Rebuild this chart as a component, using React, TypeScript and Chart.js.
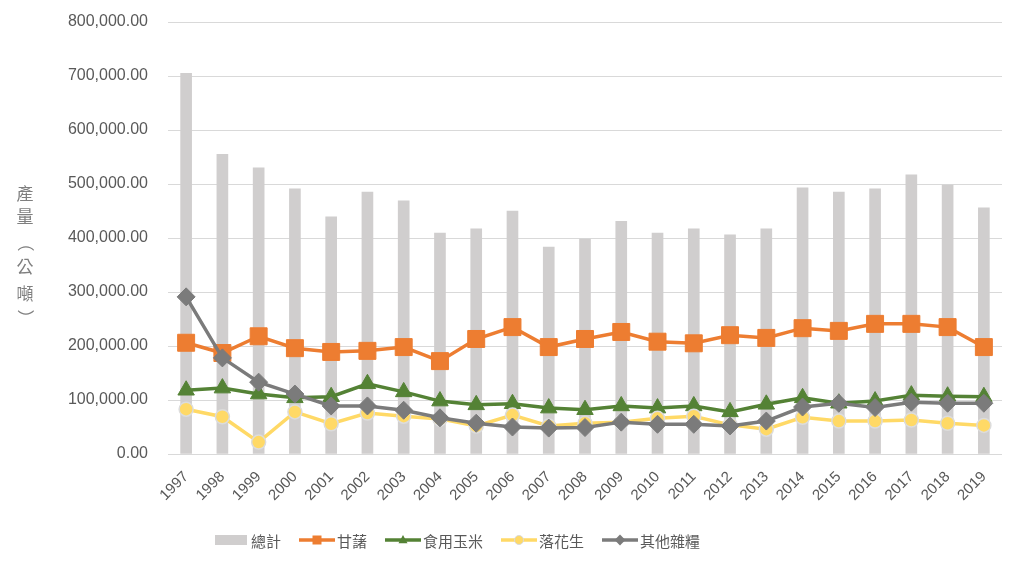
import React, { useEffect, useRef } from 'react';
import { Chart, registerables } from 'chart.js';

Chart.register(...registerables);

const years = ['1997', '1998', '1999', '2000', '2001', '2002', '2003', '2004', '2005', '2006', '2007', '2008', '2009', '2010', '2011', '2012', '2013', '2014', '2015', '2016', '2017', '2018', '2019'];
const total = [705000, 555000, 530000, 491000, 439000, 485000, 469000, 409000, 417000, 450000, 383000, 398000, 431000, 409000, 417000, 406000, 417000, 493000, 485000, 491000, 517000, 498000, 456000];
const sweetPotato = [206000, 187000, 218000, 196000, 189000, 191000, 198000, 172000, 213000, 235000, 198000, 213000, 226000, 208000, 205000, 220000, 215000, 233000, 228000, 241000, 241000, 235000, 198000];
const corn = [118000, 122000, 111000, 104000, 106000, 130000, 115000, 98000, 91000, 93000, 85000, 82000, 89000, 85000, 89000, 78000, 92000, 104000, 94000, 98000, 109000, 107000, 106000];
const peanut = [83000, 69000, 22000, 78000, 56000, 76000, 70000, 65000, 52000, 72000, 52000, 57000, 59000, 66000, 70000, 54000, 46000, 68000, 61000, 61000, 63000, 57000, 53000];
const otherGrains = [291000, 178000, 133000, 111000, 89000, 89000, 81000, 67000, 57000, 50000, 48000, 49000, 59000, 55000, 55000, 52000, 61000, 87000, 94000, 86000, 96000, 94000, 94000];
const seriesNames = ['總計', '甘藷', '食用玉米', '落花生', '其他雜糧'];
const yAxisTitle = '產量（公噸）';
const yMin = 0;
const yMax = 800000;
const yStep = 100000;

const C_BAR = '#d0cece';
const C_ORANGE = '#ed7d31';
const C_GREEN = '#548235';
const C_YELLOW = '#ffd966';
const C_GRAY = '#7b7b7b';
const TEXT = '#595959';
const CJK = '"Noto Sans CJK TC", "Noto Sans CJK SC", sans-serif';
const NUM = '"Liberation Sans", Arial, sans-serif';

function drawMarker(ctx: CanvasRenderingContext2D, kind: string, x: number, y: number, s: number, fill: string, stroke?: string) {
  ctx.save();
  ctx.beginPath();
  if (kind === 'rect') {
    ctx.rect(x - s, y - s, 2 * s, 2 * s);
  } else if (kind === 'triangle') {
    ctx.moveTo(x, y - s * 1.1);
    ctx.lineTo(x + s * 1.0, y + s * 0.7);
    ctx.lineTo(x - s * 1.0, y + s * 0.7);
    ctx.closePath();
  } else if (kind === 'circle') {
    ctx.arc(x, y, s, 0, Math.PI * 2);
  } else if (kind === 'diamond') {
    ctx.moveTo(x, y - s * 1.2);
    ctx.lineTo(x + s * 1.2, y);
    ctx.lineTo(x, y + s * 1.2);
    ctx.lineTo(x - s * 1.2, y);
    ctx.closePath();
  }
  ctx.fillStyle = fill;
  ctx.fill();
  if (stroke) {
    ctx.strokeStyle = stroke;
    ctx.lineWidth = 1;
    ctx.stroke();
  }
  ctx.restore();
}

const customPlugin = {
  id: 'customDecor',
  afterDraw(chart: any) {
    const ctx: CanvasRenderingContext2D = chart.ctx;
    ctx.save();
    // vertical y axis title
    ctx.font = `17px ${CJK}`;
    ctx.fillStyle = '#7f7f7f';
    ctx.textAlign = 'center';
    ctx.textBaseline = 'middle';
    const chars = Array.from(yAxisTitle);
    const ys = [194, 217, 243, 267, 294, 318];
    chars.forEach((ch, i) => {
      const y = ys[i] ?? 194 + i * 24;
      if (ch === '（' || ch === '）') {
        ctx.save();
        ctx.translate(25, y);
        ctx.rotate(Math.PI / 2);
        ctx.fillText(ch, 0, 0);
        ctx.restore();
      } else {
        ctx.fillText(ch, 25, y);
      }
    });

    // legend
    const ly = 540;
    let x = 215;
    ctx.font = `15px ${CJK}`;
    ctx.textAlign = 'left';
    ctx.textBaseline = 'middle';
    const kinds = ['bar', 'rect', 'triangle', 'circle', 'diamond'];
    const colors = [C_BAR, C_ORANGE, C_GREEN, C_YELLOW, C_GRAY];
    seriesNames.forEach((name, i) => {
      if (kinds[i] === 'bar') {
        ctx.fillStyle = colors[i];
        ctx.fillRect(x, ly - 5, 32, 10);
        x += 32 + 4;
      } else {
        ctx.strokeStyle = colors[i];
        ctx.lineWidth = 3.5;
        ctx.beginPath();
        ctx.moveTo(x, ly);
        ctx.lineTo(x + 36, ly);
        ctx.stroke();
        drawMarker(ctx, kinds[i], x + 18, ly, 4.5, colors[i], kinds[i] === 'circle' ? '#d9d9d9' : undefined);
        x += 36 + 2;
      }
      ctx.fillStyle = TEXT;
      ctx.fillText(name, x, ly + 1);
      x += ctx.measureText(name).width + 18;
    });
    ctx.restore();
  },
};

export default function App() {
  const ref = useRef<HTMLCanvasElement | null>(null);

  useEffect(() => {
    if (!ref.current) return;
    const lineDs = (label: string, data: number[], color: string, style: string, radius: number, order: number, border?: string) => ({
      type: 'line' as const,
      label,
      data,
      borderColor: color,
      backgroundColor: color,
      borderWidth: 3.5,
      pointStyle: style,
      pointRadius: radius,
      pointHoverRadius: radius,
      pointBackgroundColor: color,
      pointBorderColor: border ?? color,
      pointBorderWidth: border ? 1.5 : 1,
      tension: 0,
      order,
    });
    const chart = new Chart(ref.current, {
      type: 'bar',
      data: {
        labels: years,
        datasets: [
          {
            type: 'bar',
            label: seriesNames[0],
            data: total,
            backgroundColor: C_BAR,
            barThickness: 11,
            order: 10,
          } as any,
          lineDs(seriesNames[1], sweetPotato, C_ORANGE, 'rect', 12, 4),
          lineDs(seriesNames[2], corn, C_GREEN, 'triangle', 9.5, 3),
          lineDs(seriesNames[3], peanut, C_YELLOW, 'circle', 7, 2, '#dcdcdc'),
          lineDs(seriesNames[4], otherGrains, C_GRAY, 'rectRot', 9, 1),
        ],
      },
      options: {
        animation: false,
        responsive: false,
        devicePixelRatio: 1,
        layout: { padding: { top: 22, right: 23, left: 0, bottom: 0 } },
        plugins: {
          legend: { display: false },
          tooltip: { enabled: false },
          title: { display: false },
        },
        scales: {
          x: {
            offset: true,
            grid: { display: false, drawTicks: false },
            border: { display: false },
            ticks: {
              color: TEXT,
              font: { family: NUM, size: 15 },
              minRotation: 45,
              maxRotation: 45,
              padding: 14,
              autoSkip: false,
            },
            afterFit: (scale: any) => {
              scale.height = 116;
            },
          },
          y: {
            min: yMin,
            max: yMax,
            grid: { color: '#d9d9d9', lineWidth: 1, drawTicks: false },
            border: { display: false },
            ticks: {
              stepSize: yStep,
              color: TEXT,
              font: { family: NUM, size: 16 },
              padding: 20,
              callback: (v: any) => Number(v).toLocaleString('en-US', { minimumFractionDigits: 2, maximumFractionDigits: 2 }),
            },
            afterFit: (scale: any) => {
              scale.width = 168;
              scale.paddingTop = 0;
              scale.paddingBottom = 0;
            },
          },
        },
      } as any,
      plugins: [customPlugin],
    });
    return () => chart.destroy();
  }, []);

  return (
    <div style={{ position: 'absolute', left: 0, top: 0, width: 1025, height: 570, background: '#fff' }}>
      <canvas ref={ref} width={1025} height={570} />
    </div>
  );
}
